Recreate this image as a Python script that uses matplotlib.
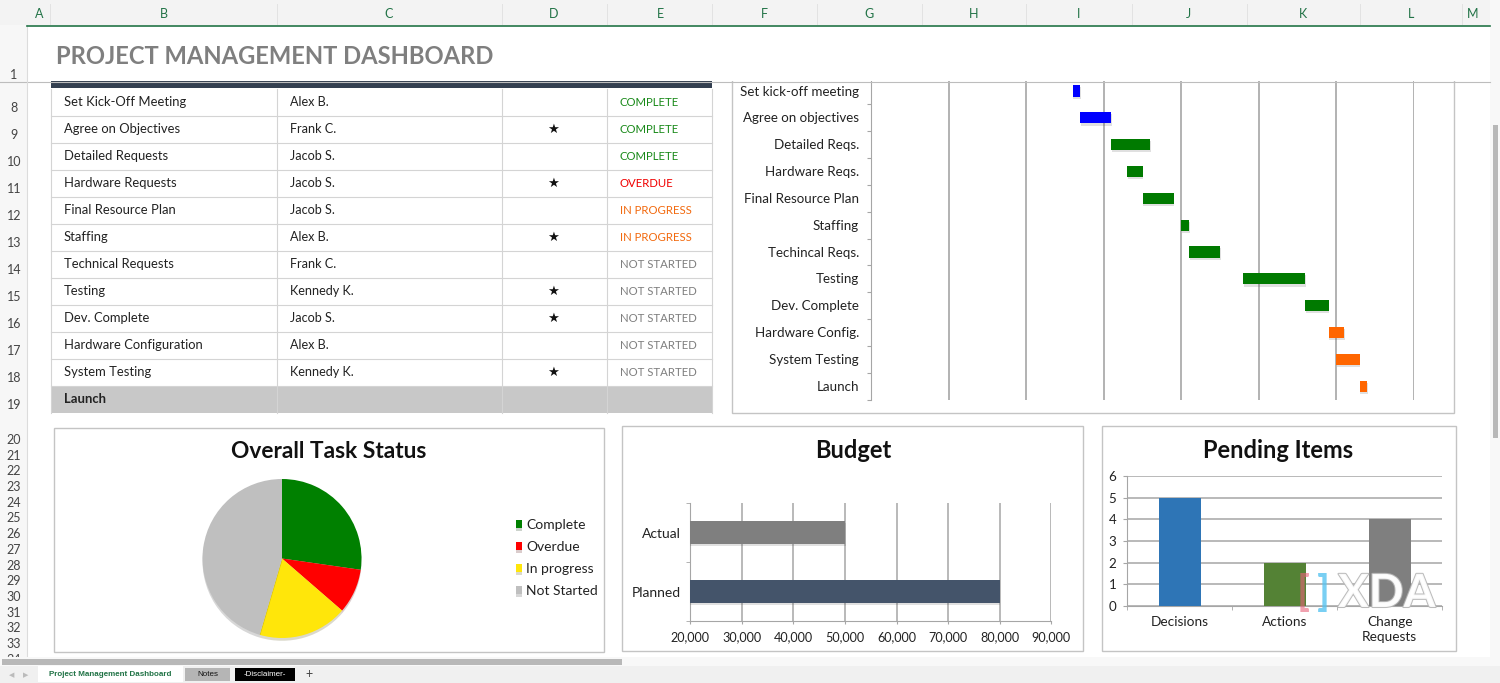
import matplotlib
matplotlib.use('Agg')
import matplotlib.pyplot as plt
import matplotlib.patheffects as pe
from matplotlib.patches import Rectangle
from matplotlib.ticker import FuncFormatter

plt.rcParams['font.family'] = ['Lato', 'DejaVu Sans']

# table
tasks = ['Set Kick-Off Meeting', 'Agree on Objectives', 'Detailed Requests', 'Hardware Requests',
         'Final Resource Plan', 'Staffing', 'Technical Requests', 'Testing', 'Dev. Complete',
         'Hardware Configuration', 'System Testing']
owners = ['Alex B.', 'Frank C.', 'Jacob S.', 'Jacob S.', 'Jacob S.', 'Alex B.', 'Frank C.',
          'Kennedy K.', 'Jacob S.', 'Alex B.', 'Kennedy K.']
starred = [0, 1, 0, 1, 0, 1, 0, 1, 1, 0, 1]
statuses = ['COMPLETE', 'COMPLETE', 'COMPLETE', 'OVERDUE', 'IN PROGRESS', 'IN PROGRESS',
            'NOT STARTED', 'NOT STARTED', 'NOT STARTED', 'NOT STARTED', 'NOT STARTED']
status_colors = {'COMPLETE': '#1a8a1a', 'OVERDUE': '#f00000', 'IN PROGRESS': '#f26a0f',
                 'NOT STARTED': '#7f7f7f'}

# gantt
gantt_labels = ['Set kick-off meeting', 'Agree on objectives', 'Detailed Reqs.', 'Hardware Reqs.',
                'Final Resource Plan', 'Staffing', 'Techincal Reqs.', 'Testing', 'Dev. Complete',
                'Hardware Config.', 'System Testing', 'Launch']
gantt_start = [26, 27, 31, 33, 35, 40, 41, 48, 56, 59, 60, 63]
gantt_days = [1, 4, 5, 2, 4, 1, 4, 8, 3, 2, 3, 1]
gantt_colors = ['#0000ff', '#0000ff', '#007a00', '#007a00', '#007a00', '#007a00', '#007a00',
                '#007a00', '#007a00', '#ff6600', '#ff6600', '#ff6600']

# pie
pie_labels = ['Complete', 'Overdue', 'In progress', 'Not Started']
pie_values = [3, 1, 2, 5]
pie_colors = ['#008000', '#ff0000', '#ffe60a', '#bfbfbf']

# budget
budget_labels = ['Planned', 'Actual']
budget_values = [80000, 50000]
budget_colors = ['#44546a', '#7f7f7f']
budget_ticks = [20000, 30000, 40000, 50000, 60000, 70000, 80000, 90000]

# pending
pending_labels = ['Decisions', 'Actions', 'Change\nRequests']
pending_values = [5, 2, 4]
pending_colors = ['#2e75b6', '#548235', '#7f7f7f']

# sheet furniture
col_letters = ['A', 'B', 'C', 'D', 'E', 'F', 'G', 'H', 'I', 'J', 'K', 'L', 'M']
col_centers = [39, 164, 389, 554, 660, 764, 869, 974, 1079, 1188, 1303, 1411, 1473]
col_edges = [50, 277, 502, 607, 712, 817, 922, 1026, 1132, 1247, 1360, 1462]

W, H = 1500, 683
fig = plt.figure(figsize=(W / 100, H / 100), dpi=100, facecolor='white')


def px_axes(left, top, right, bottom, z=1):
    ax = fig.add_axes([left / W, 1 - bottom / H, (right - left) / W, (bottom - top) / H], zorder=z)
    ax.patch.set_alpha(0)
    return ax


def box(ax, x0, y0, x1, y1, **kw):
    kw.setdefault('lw', 0)
    ax.add_patch(Rectangle((x0, y0), x1 - x0, y1 - y0, **kw))


shadow = [pe.SimplePatchShadow(offset=(0.5, -1.5), alpha=0.18, shadow_rgbFace='#555555'), pe.Normal()]

# background layer, pixel coords
bg = px_axes(0, 0, W, H, z=0)
bg.set_xlim(0, W)
bg.set_ylim(H, 0)
bg.axis('off')

# table rows
row_top = 88.5
row_h = 27
for i, task in enumerate(tasks):
    y = 106.2 + row_h * i
    bg.text(64, y, task, fontsize=9.4, color='#222222', va='baseline')
    bg.text(290, y, owners[i], fontsize=9.1, color='#222222', va='baseline')
    if starred[i]:
        bg.text(553, y, '★', fontsize=9.5, color='#111111', va='baseline', ha='center')
    bg.text(620, y, statuses[i], fontsize=8.2, color=status_colors[statuses[i]], va='baseline')
    bg.plot([51, 712], [row_top + row_h * (i + 1)] * 2, color='#d4d4d4', lw=0.8)
launch_top = row_top + row_h * len(tasks)
box(bg, 51, launch_top, 712, launch_top + row_h, fc='#c8c8c8')
bg.text(64, 106.2 + row_h * len(tasks), 'Launch', fontsize=9.4, fontweight='bold', color='#222222', va='baseline')
for x in [51, 277, 502, 607, 712]:
    bg.plot([x, x], [row_top, launch_top + row_h], color='#d4d4d4', lw=0.8)
box(bg, 51, 81, 712, 88, fc='#333f50')

# chart frames
for x0, y0, x1, y1 in [(732, 70, 1454, 413), (54, 428, 604, 652), (622, 426, 1083, 651), (1102, 426, 1456, 651)]:
    box(bg, x0, y0, x1, y1, fc='white', ec='#c4c4c4', lw=1)

# gantt
gx = px_axes(871, 77.6, 1414, 399.6)
y_pos = list(range(len(gantt_labels)))
gx.barh(y_pos, gantt_days, left=gantt_start, height=0.42, color=gantt_colors, zorder=3,
        path_effects=shadow)
gx.set_xlim(0, 70)
gx.set_ylim(11.5, -0.5)
gx.set_xticks(range(10, 71, 10))
gx.set_xticklabels([])
gx.tick_params(axis='x', length=0)
gx.grid(axis='x', color='#a6a6a6', lw=1.2, zorder=1)
gx.set_yticks([i - 0.5 for i in range(13)])
gx.set_yticklabels([])
gx.tick_params(axis='y', length=3, color='#a6a6a6')
for i, label in enumerate(gantt_labels):
    gx.annotate(label, (0, i), xycoords=('axes fraction', 'data'), xytext=(-12, -4.5), textcoords='offset pixels',
                ha='right', va='baseline', fontsize=9.6, color='#222222')
for s in ['top', 'right', 'bottom']:
    gx.spines[s].set_visible(False)
gx.spines['left'].set_color('#a6a6a6')

# pie
px = px_axes(202.5, 479, 361.5, 638)
wedges, _ = px.pie(pie_values, colors=pie_colors, startangle=90, counterclock=False, radius=1,
                   wedgeprops={'lw': 0, 'path_effects': [pe.SimplePatchShadow(offset=(0, -2), alpha=0.2), pe.Normal()]})
px.set_xlim(-1, 1)
px.set_ylim(-1, 1)
fig.text(329 / W, 1 - 451 / H, 'Overall Task Status', fontsize=16.4, fontweight='bold', ha='center', va='center', color='#111111')
fig.legend(wedges, pie_labels, loc='center left', bbox_to_anchor=(503 / W, 1 - 558 / H), frameon=False,
           fontsize=10, handlelength=0.47, handleheight=0.47, handletextpad=0.3, labelspacing=0.72,
           labelcolor='#222222')

# budget
bx = px_axes(690.3, 503.3, 1051.3, 621)
bx.barh(budget_labels, budget_values, height=0.385, color=budget_colors, zorder=3, path_effects=shadow)
bx.set_xlim(20000, 90000)
bx.set_ylim(-0.5, 1.5)
bx.set_xticks(budget_ticks)
bx.xaxis.set_major_formatter(FuncFormatter(lambda v, p: f'{int(v):,}'))
bx.grid(axis='x', color='#a6a6a6', lw=1.1, zorder=1)
bx.set_yticks([0, 1])
bx.set_yticks([-0.5, 0.5, 1.5], minor=True)
bx.tick_params(axis='y', which='major', length=0, pad=7, labelsize=10, labelcolor='#222222')
bx.tick_params(axis='y', which='minor', length=3, color='#a6a6a6')
bx.tick_params(axis='x', length=2, color='#a6a6a6', pad=5, labelsize=9.1, labelcolor='#222222')
for s in ['top', 'right']:
    bx.spines[s].set_visible(False)
for s in ['left', 'bottom']:
    bx.spines[s].set_color('#a6a6a6')
fig.text(853 / W, 1 - 451 / H, 'Budget', fontsize=17, fontweight='bold', ha='center', va='center', color='#111111')

# pending
nx = px_axes(1127.3, 476, 1442.3, 606)
nx.bar(range(len(pending_values)), pending_values, width=0.4, color=pending_colors, zorder=3)
nx.set_xlim(-0.5, 2.5)
nx.set_ylim(0, 6)
nx.set_yticks(range(7))
nx.set_xticks(range(len(pending_labels)))
nx.set_xticklabels(pending_labels, linespacing=1.3)
nx.set_xticks([-0.5, 0.5, 1.5, 2.5], minor=True)
nx.grid(axis='y', color='#a6a6a6', lw=1.1, zorder=1)
nx.tick_params(axis='x', which='major', length=0, pad=7.5, labelsize=9.8, labelcolor='#222222')
nx.tick_params(axis='x', which='minor', length=3, color='#a6a6a6')
nx.tick_params(axis='y', length=3, color='#a6a6a6', pad=5, labelsize=9.6, labelcolor='#222222')
for s in ['top', 'right']:
    nx.spines[s].set_visible(False)
for s in ['left', 'bottom']:
    nx.spines[s].set_color('#a6a6a6')
fig.text(1278 / W, 1 - 451 / H, 'Pending Items', fontsize=17, fontweight='bold', ha='center', va='center', color='#111111')

# frozen header, scroll bars, tabs on top
top = px_axes(0, 0, W, H, z=3)
top.set_xlim(0, W)
top.set_ylim(H, 0)
top.axis('off')
box(top, 27, 26, 1490, 81, fc='white')
top.plot([0, 1490], [81.5, 81.5], color='#bdbdbd', lw=0.8)
top.text(56, 63.5, 'PROJECT MANAGEMENT DASHBOARD', fontsize=17.1, fontweight='bold', color='#7f7f7f', va='baseline')

box(top, 0, 0, 1500, 25, fc='#f3f3f3')
box(top, 0, 25, 27, 658, fc='#f7f7f7')
top.plot([27, 27], [25, 658], color='#dcdcdc', lw=0.8)
top.plot([27, 1490], [25.5, 25.5], color='#217346', lw=1.2)
for x in col_edges:
    top.plot([x, x], [4, 24], color='#e2e2e2', lw=0.7)
for letter, x in zip(col_letters, col_centers):
    top.text(x, 18, letter, fontsize=9, color='#217346', ha='center', va='baseline')
top.text(14, 79, '1', fontsize=9, color='#444444', ha='center', va='baseline')
for i, r in enumerate(range(8, 20)):
    top.text(14, 112 + 27 * i, str(r), fontsize=9, color='#444444', ha='center', va='baseline')
for i, r in enumerate(range(20, 35)):
    top.text(14, 444 + 15.7 * i, str(r), fontsize=9, color='#444444', ha='center', va='baseline')

box(top, 1490, 0, 1500, 666, fc='#f8f8f8')
box(top, 1493, 125, 1498, 438, fc='#b8b8b8')
box(top, 0, 657, 1500, 666, fc='#f8f8f8', zorder=3.5)
box(top, 2, 659, 622, 665, fc='#b8b8b8', zorder=3.6)
box(top, 0, 666, 1500, 683, fc='#f0f0f0', zorder=3.5)
box(top, 38, 666, 183, 682, fc='white', zorder=3.6)
top.text(110, 674.5, 'Project Management Dashboard', fontsize=5.8, fontweight='bold', family='Liberation Sans',
         color='#217346', ha='center', va='center', zorder=5)
box(top, 185, 668, 230, 681, fc='#b5b5b5', zorder=3.6)
top.text(207.5, 674.5, 'Notes', fontsize=5.8, family='Liberation Sans', color='#111111', ha='center', va='center', zorder=5)
box(top, 235, 668, 295, 681, fc='black', zorder=3.6)
top.text(265, 674.5, '-Disclaimer-', fontsize=5.8, family='Liberation Sans', color='white', ha='center', va='center', zorder=5)
top.text(309, 674, '+', fontsize=9, color='#444444', ha='center', va='center', zorder=5)
top.text(12, 674.5, '◀', fontsize=5, color='#bbbbbb', ha='center', va='center', zorder=5)
top.text(26, 674.5, '▶', fontsize=5, color='#bbbbbb', ha='center', va='center', zorder=5)

# watermark
top.text(1297, 593, '[', fontsize=30, fontweight='bold', color='#e9637a', alpha=0.6, ha='left', va='center')
top.text(1317, 593, ']', fontsize=30, fontweight='bold', color='#58c4f0', alpha=0.8, ha='left', va='center')
top.text(1338, 607, 'XDA', fontsize=33, fontweight='bold', color='white', ha='left', va='baseline', alpha=0.9,
         path_effects=[pe.withStroke(linewidth=1.5, foreground='#b5b5b5')])

fig.savefig('out.png', dpi=100)
